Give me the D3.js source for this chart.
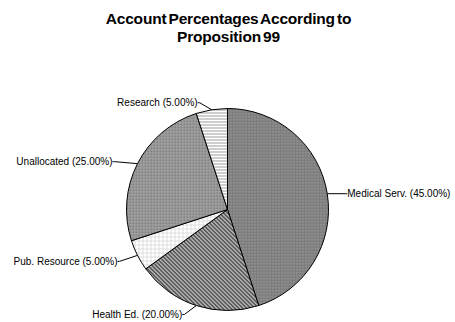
<!DOCTYPE html>
<html>
<head>
<meta charset="utf-8">
<script src="https://cdn.jsdelivr.net/npm/d3@7"></script>
<style>
  html, body { margin: 0; padding: 0; background: #fff; }
  svg { display: block; font-family: "Liberation Sans", Arial, sans-serif; }
</style>
</head>
<body>
<svg id="chart" width="455" height="322"></svg>
<script>
// Proposition 99 account shares (percent), clockwise from 12 o'clock
const categories = ["Medical Serv.", "Health Ed.", "Pub. Resource", "Unallocated", "Research"];
const percentages = [45, 20, 5, 25, 5];
const titleLines = ["Account Percentages According to", "Proposition 99"];

// Fill pattern per slice, and label placement relative to the slice's outer midpoint
const fills = ["dotMedium", "diagChecker", "lightGrid", "dotGrey", "hLines"];
const labelLayout = [
  { side: 1, dx: 18, dy: 0 },
  { side: -1, dx: -12, dy: 9 },
  { side: -1, dx: -18, dy: 6 },
  { side: -1, dx: -23, dy: -2 },
  { side: -1, dx: -12, dy: -7 }
];

const svg = d3.select("#chart");
const cx = 227.5, cy = 209.5, r = 101;

// ---- patterns ----
const defs = svg.append("defs");
function pat(id, w, h, build) {
  const p = defs.append("pattern").attr("id", id).attr("patternUnits", "userSpaceOnUse")
    .attr("width", w).attr("height", h);
  build(p);
}
pat("dotMedium", 3, 3, p => {
  p.append("rect").attr("width", 3).attr("height", 3).attr("fill", "#828282");
  p.append("rect").attr("x", 0).attr("y", 0).attr("width", 1).attr("height", 1).attr("fill", "#a8a8a8");
  p.append("rect").attr("x", 1).attr("y", 1).attr("width", 2).attr("height", 1).attr("fill", "#757575");
});
pat("dotGrey", 3, 3, p => {
  p.append("rect").attr("width", 3).attr("height", 3).attr("fill", "#8a8a8a");
  p.append("rect").attr("x", 0).attr("y", 0).attr("width", 3).attr("height", 1).attr("fill", "#a4a4a4");
  p.append("rect").attr("x", 0).attr("y", 0).attr("width", 1).attr("height", 3).attr("fill", "#a4a4a4");
  p.append("rect").attr("x", 1).attr("y", 1).attr("width", 1).attr("height", 1).attr("fill", "#686868");
});
pat("diagChecker", 4, 4, p => {
  p.append("rect").attr("width", 4).attr("height", 4).attr("fill", "#cfcfcf");
  [[0,0],[1,1],[2,2],[3,3],[1,0],[2,1],[3,2],[0,3]].forEach(([x, y]) =>
    p.append("rect").attr("x", x).attr("y", y).attr("width", 1).attr("height", 1).attr("fill", "#383838"));
});
pat("lightGrid", 4, 4, p => {
  p.append("rect").attr("width", 4).attr("height", 4).attr("fill", "#ffffff");
  p.append("rect").attr("x", 0).attr("y", 3).attr("width", 4).attr("height", 1).attr("fill", "#dcdcdc");
  p.append("rect").attr("x", 3).attr("y", 0).attr("width", 1).attr("height", 4).attr("fill", "#dcdcdc");
});
pat("hLines", 3, 3, p => {
  p.append("rect").attr("width", 3).attr("height", 3).attr("fill", "#ffffff");
  p.append("rect").attr("x", 0).attr("y", 2).attr("width", 3).attr("height", 1).attr("fill", "#9a9a9a");
});

// ---- title ----
svg.append("g").selectAll("text").data(titleLines).join("text")
  .attr("x", cx + 1).attr("y", (d, i) => 23.5 + i * 18)
  .attr("text-anchor", "middle")
  .attr("font-size", 15.5).attr("font-weight", "bold").attr("letter-spacing", -0.2)
  .attr("word-spacing", -2)
  .attr("fill", "#000")
  .text(d => d);

// ---- pie ----
const data = categories.map((c, i) => ({ name: c, value: percentages[i], fill: fills[i], layout: labelLayout[i] }));
const pie = d3.pie().value(d => d.value).sort(null).startAngle(0).endAngle(2 * Math.PI);
const arcs = pie(data);
const arc = d3.arc().innerRadius(0).outerRadius(r);

const g = svg.append("g").attr("transform", `translate(${cx},${cy})`);
g.selectAll("path.slice").data(arcs).join("path")
  .attr("class", "slice")
  .attr("d", arc)
  .attr("fill", d => `url(#${d.data.fill})`)
  .attr("stroke", "#000").attr("stroke-width", 1).attr("stroke-linejoin", "round");

// ---- labels with leader lines ----
const fmt = d3.format(".2f");
arcs.forEach(d => {
  const a = (d.startAngle + d.endAngle) / 2;
  const px = r * Math.sin(a), py = -r * Math.cos(a);
  const L = d.data.layout;
  const ly = py + L.dy;
  const ex = px + L.dx;
  const tx = ex + L.side * 2;
  g.append("polyline")
    .attr("points", [[px, py], [ex, ly], [tx, ly]].map(p => p.join(",")).join(" "))
    .attr("fill", "none").attr("stroke", "#000").attr("stroke-width", 1);
  g.append("text")
    .attr("x", tx).attr("y", ly).attr("dy", "0.35em")
    .attr("text-anchor", L.side > 0 ? "start" : "end")
    .attr("font-size", 10).attr("fill", "#000")
    .text(`${d.data.name} (${fmt(d.data.value)}%)`);
});
</script>
</body>
</html>
